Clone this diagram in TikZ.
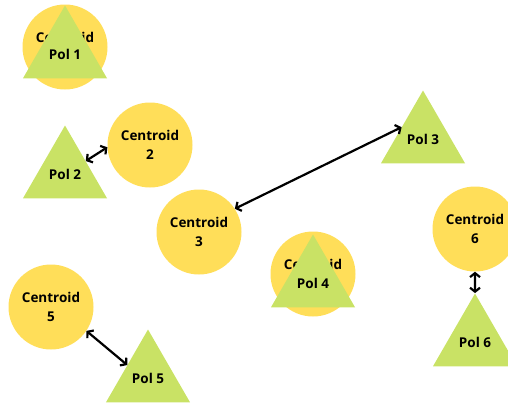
\documentclass[tikz,border=0pt]{standalone}
\usepackage{fontspec}
\setmainfont{Open Sans}
\usetikzlibrary{shapes.geometric,arrows.meta}
\definecolor{cyel}{HTML}{FFDE59}
\definecolor{cgrn}{HTML}{C9E265}
\tikzset{
  cen/.style={circle,fill=cyel,minimum size=85pt,inner sep=0pt,align=center,
    font=\bfseries\fontsize{13.5}{19}\selectfont},
  pol/.style={regular polygon,regular polygon sides=3,fill=cgrn,minimum size=97pt,inner sep=0pt,
    font=\bfseries\fontsize{13.5}{19}\selectfont},
  arr/.style={line width=2.2pt,{Straight Barb[length=4pt,width=10pt]}-{Straight Barb[length=4pt,width=10pt]}}
}
\begin{document}
\begin{tikzpicture}[x=1pt,y=-1pt]
\useasboundingbox (0,0) rectangle (508,405);
\node[cen] (c1) at (65,47) {Centroid\\1};
\node[pol] (t1) at (65,54) {Pol 1};
\node[cen] (c2) at (150,145) {Centroid\\2};
\node[pol] (t2) at (65,174) {Pol 2};
\node[cen] (c3) at (199,232) {Centroid\\3};
\node[pol] (t3) at (423,139) {Pol 3};
\node[cen] (c4) at (313,274) {Centroid\\4};
\node[pol] (t4) at (313,283) {Pol 4};
\node[cen] (c5) at (51,307) {Centroid\\5};
\node[pol] (t5) at (148,378) {Pol 5};
\node[cen] (c6) at (475,229) {Centroid\\6};
\node[pol] (t6) at (475,342) {Pol 6};
\draw[arr] (c2.183) -- (t2.32);
\draw[arr] (c3.33) -- (t3.151);
\draw[arr] (c5.326) -- (t5.148);
\draw[arr] (c6.south) -- (t6.north);
\end{tikzpicture}
\end{document}
